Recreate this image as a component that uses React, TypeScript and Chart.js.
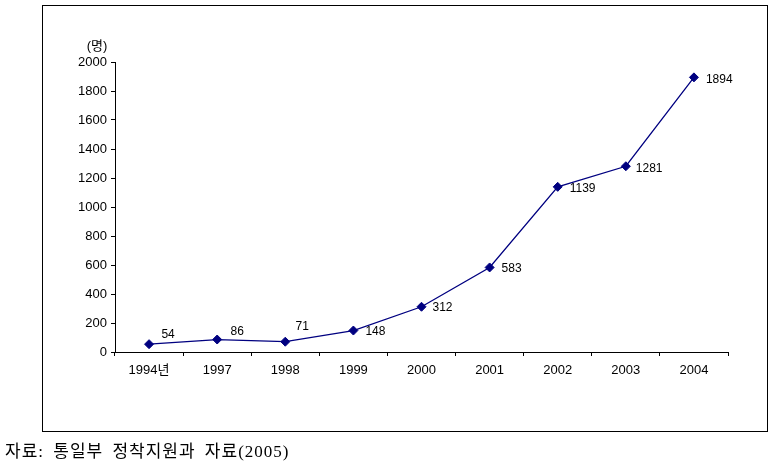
import { useEffect, useRef } from "react";
import { Chart, registerables } from "chart.js";

Chart.register(...registerables);

const categories = ["1994년", "1997", "1998", "1999", "2000", "2001", "2002", "2003", "2004"];
const defectors = [54, 86, 71, 148, 312, 583, 1139, 1281, 1894];
const yMin = 0;
const yMax = 2000;
const yStep = 200;
const unitLabel = "(명)";
const sourceNote = "자료: 통일부 정착지원과 자료(2005)";

// label placement relative to its point: [dx, dy, align]
const labelPlacement: [number, number, CanvasTextAlign][] = [
  [19, -9, "center"],
  [20, -8, "center"],
  [17, -15, "center"],
  [12, 1, "left"],
  [11, 1, "left"],
  [12, 1, "left"],
  [12, 2, "left"],
  [10, 2, "left"],
  [12, 2, "left"],
];

const labelsPlugin = {
  id: "valueLabels",
  afterDatasetsDraw(chart: any) {
    const ctx = chart.ctx;
    const meta = chart.getDatasetMeta(0);
    ctx.save();
    ctx.fillStyle = "#000";
    ctx.font = '12px "Liberation Sans", Arial, sans-serif';
    ctx.textBaseline = "middle";
    meta.data.forEach((pt: any, i: number) => {
      const [dx, dy, align] = labelPlacement[i];
      ctx.textAlign = align;
      ctx.fillText(String(defectors[i]), pt.x + dx, pt.y + dy);
    });
    const area = chart.chartArea;
    ctx.font = '13px "Liberation Sans", "Noto Sans CJK KR", sans-serif';
    ctx.textAlign = "center";
    ctx.fillText(unitLabel, area.left - 18, area.top - 16);
    ctx.restore();
  },
};

export default function App() {
  const ref = useRef<HTMLCanvasElement | null>(null);
  useEffect(() => {
    if (!ref.current) return;
    const tickFont = { family: '"Liberation Sans", Arial, "Noto Sans CJK KR", sans-serif', size: 13 };
    const chart = new Chart(ref.current, {
      type: "line",
      data: {
        labels: categories,
        datasets: [
          {
            data: defectors,
            borderColor: "#000080",
            backgroundColor: "#000080",
            borderWidth: 1.3,
            pointStyle: "rectRot",
            pointRadius: 4.5,
            pointBorderWidth: 1,
            pointBorderColor: "#000080",
            pointBackgroundColor: "#000080",
            tension: 0,
            fill: false,
          },
        ],
      },
      options: {
        responsive: false,
        animation: false,
        layout: { padding: { left: 0, top: 62, right: 46, bottom: 0 } },
        plugins: { legend: { display: false }, tooltip: { enabled: false } },
        scales: {
          x: {
            type: "category",
            offset: true,
            grid: { display: true, drawOnChartArea: false, drawTicks: true, tickLength: 4, color: "#000", offset: true },
            border: { display: true, color: "#000", width: 1 },
            ticks: { color: "#000", font: tickFont, padding: 7, maxRotation: 0, autoSkip: false },
            afterFit: (s: any) => { s.height = 118; },
          },
          y: {
            min: yMin,
            max: yMax,
            grid: { display: true, drawOnChartArea: false, drawTicks: true, tickLength: 4, color: "#000" },
            border: { display: true, color: "#000", width: 1 },
            ticks: {
              stepSize: yStep,
              color: "#000",
              font: tickFont,
              padding: 4,
              callback: (v: any) => String(v),
            },
            afterFit: (s: any) => { s.width = 115; },
          },
        },
      },
      plugins: [labelsPlugin],
    });
    return () => chart.destroy();
  }, []);

  return (
    <div style={{ position: "absolute", left: 0, top: 0, width: 774, height: 470, background: "#fff" }}>
      <div
        style={{
          position: "absolute",
          left: 42,
          top: 5,
          width: 724,
          height: 425,
          border: "1px solid #000",
        }}
      />
      <canvas ref={ref} width={774} height={470} style={{ position: "absolute", left: 0, top: 0, display: "block" }} />
      <div
        style={{
          position: "absolute",
          left: 5,
          top: 440,
          fontFamily: '"Liberation Serif", "Noto Sans CJK KR", serif',
          fontSize: 17,
          lineHeight: "24px",
          whiteSpace: "pre",
          color: "#000",
          wordSpacing: 4,
          letterSpacing: 1,
        }}
      >
        {sourceNote}
      </div>
    </div>
  );
}
